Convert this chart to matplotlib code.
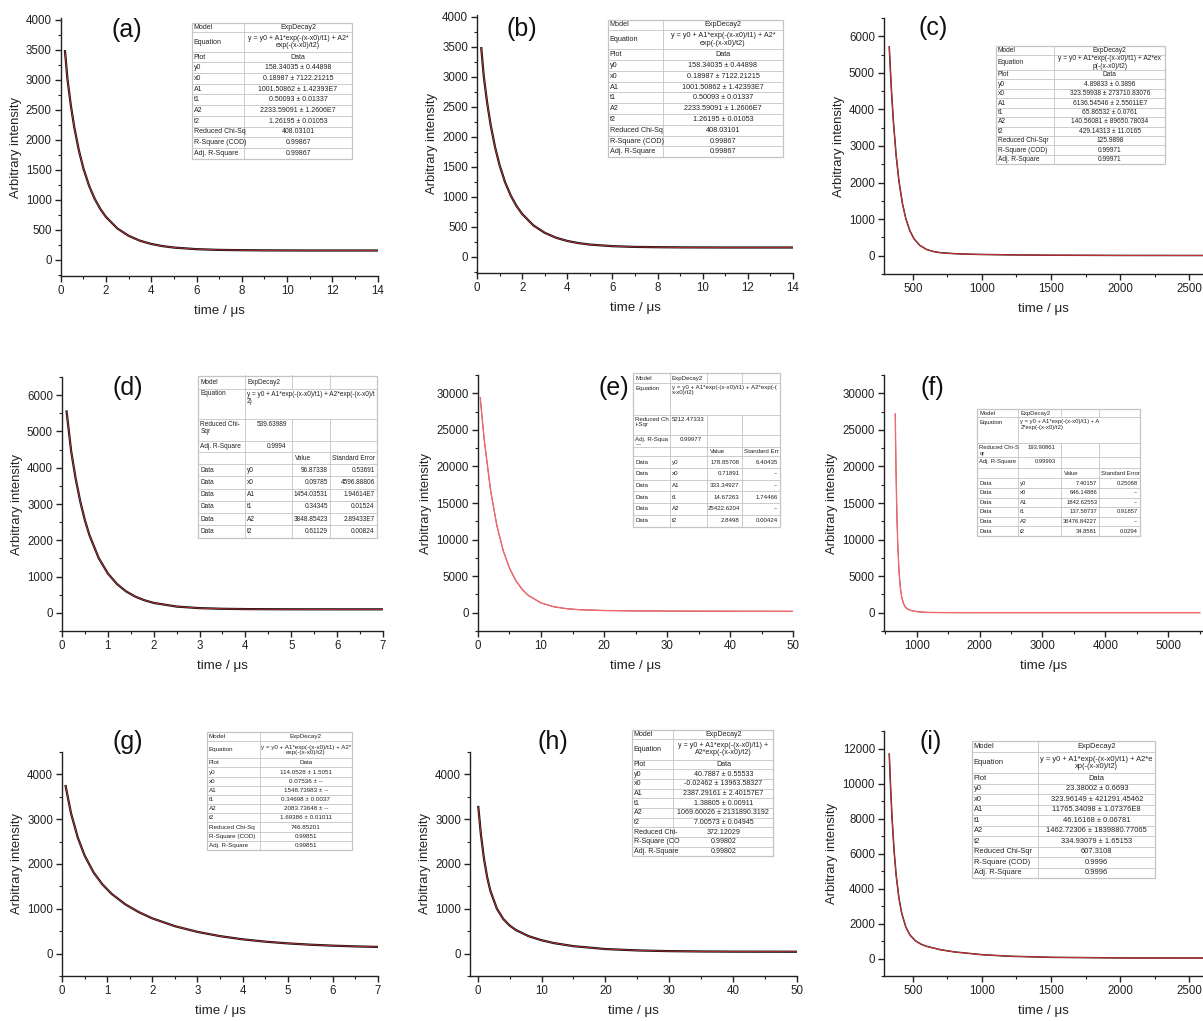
import numpy as np
import matplotlib
matplotlib.use("Agg")
import matplotlib.pyplot as plt
from matplotlib.ticker import AutoMinorLocator, MultipleLocator
from matplotlib.patches import Rectangle

plt.rcParams['font.family'] = ['Liberation Sans', 'DejaVu Sans']

# ---------------- DATA ----------------
a_t = [0.19, 0.3, 0.45, 0.6, 0.8, 1.0, 1.25, 1.5, 1.75, 2.0, 2.5, 3.0, 3.5, 4.0, 4.5, 5, 6, 7, 8, 9, 10, 11, 12, 13, 14]
a_y = [3480, 3010, 2570, 2210, 1830, 1530, 1240, 1020, 850, 717, 526, 403, 321, 267, 231, 207, 180, 168, 163, 160, 159, 158, 158, 158, 158]
b_t = a_t
b_y = a_y

c_t = [330, 345, 360, 380, 400, 425, 450, 480, 510, 550, 600, 650, 700, 800, 900, 1000, 1200, 1500, 2000, 2600]
c_y = [5710, 4573, 3666, 2735, 2047, 1433, 1011, 674, 458, 285, 171, 114, 83, 56, 42, 34, 23, 14, 8, 6]

d_t = [0.1, 0.2, 0.3, 0.4, 0.5, 0.6, 0.8, 1.0, 1.2, 1.4, 1.6, 1.8, 2.0, 2.5, 3.0, 3.5, 4.0, 5.0, 6.0, 7.0]
d_y = [5550, 4451, 3683, 3059, 2550, 2135, 1511, 1086, 792, 589, 446, 346, 274, 173, 130, 112, 104, 98, 97, 97]

e_t = [0.35, 1, 2, 3, 4, 5, 6, 7, 8, 10, 12, 14, 16, 20, 25, 30, 40, 50]
e_y = [29400, 23542, 16699, 11884, 8484, 6087, 4396, 3200, 2357, 1335, 819, 555, 416, 298, 246, 224, 202, 190]

f_t = [659, 670, 685, 700, 720, 740, 760, 790, 820, 850, 900, 1000, 1100, 1200, 1400, 1700, 2000, 3000, 4000, 5500]
f_y = [27170, 19933, 13350, 9023, 5461, 3404, 2202, 1241, 776, 531, 323, 148, 75, 40, 15, 8, 7.5, 7.4, 7.4, 7.4]

g_t = [0.08, 0.2, 0.35, 0.5, 0.7, 0.9, 1.1, 1.4, 1.7, 2.0, 2.5, 3.0, 3.5, 4.0, 4.5, 5.0, 5.5, 6.0, 6.5, 7.0]
g_y = [3740, 3131, 2588, 2191, 1811, 1539, 1333, 1101, 926, 787, 612, 485, 390, 319, 267, 228, 199, 177, 161, 149]

h_t = [0.1, 0.5, 1, 1.5, 2, 3, 4, 5, 6, 8, 10, 12, 15, 20, 25, 30, 35, 40, 50]
h_y = [3273, 2669, 2106, 1697, 1397, 1006, 774, 627, 525, 388, 298, 233, 166, 102, 71, 55, 48, 44, 42]

i_t = [330, 340, 350, 365, 380, 400, 420, 450, 480, 520, 560, 600, 700, 800, 1000, 1200, 1500, 2000, 2600]
i_y = [11680, 9728, 8070, 6153, 4754, 3455, 2590, 1794, 1341, 1006, 817, 695, 502, 377, 218, 130, 67, 33, 25]

panel_letters = ['(a)', '(b)', '(c)', '(d)', '(e)', '(f)', '(g)', '(h)', '(i)']
xlabels = ['time / \u03bcs'] * 9
xlabels[5] = 'time /\u03bcs'
ylabel_text = 'Arbitrary intensity'

# table contents
summary_keys = ['Model', 'Equation', 'Plot', 'y0', 'x0', 'A1', 't1', 'A2', 't2']
tab_a_keys = summary_keys + ['Reduced Chi-Sq', 'R-Square (COD)', 'Adj. R-Square']
tab_a_vals = ['ExpDecay2', 'y = y0 + A1*exp(-(x-x0)/t1) + A2*\nexp(-(x-x0)/t2)', 'Data',
              '158.34035 \u00b1 0.44898', '0.18987 \u00b1 7122.21215', '1001.50862 \u00b1 1.42393E7',
              '0.50093 \u00b1 0.01337', '2233.59091 \u00b1 1.2606E7', '1.26195 \u00b1 0.01053',
              '408.03101', '0.99867', '0.99867']
tab_c_keys = summary_keys + ['Reduced Chi-Sqr', 'R-Square (COD)', 'Adj. R-Square']
tab_c_vals = ['ExpDecay2', 'y = y0 + A1*exp(-(x-x0)/t1) + A2*ex\np(-(x-x0)/t2)', 'Data',
              '4.89833 \u00b1 0.3896', '323.59938 \u00b1 273710.83076', '6136.54546 \u00b1 2.55011E7',
              '65.86532 \u00b1 0.0761', '140.56081 \u00b1 89650.78034', '429.14313 \u00b1 11.0165',
              '125.9898', '0.99971', '0.99971']
tab_g_keys = summary_keys + ['Reduced Chi-Sq', 'R-Square (COD)', 'Adj. R-Square']
tab_g_vals = ['ExpDecay2', 'y = y0 + A1*exp(-(x-x0)/t1) + A2*\nexp(-(x-x0)/t2)', 'Data',
              '114.0528 \u00b1 1.5051', '0.07536 \u00b1 --', '1548.73983 \u00b1 --',
              '0.34698 \u00b1 0.0037', '2083.73648 \u00b1 --', '1.69386 \u00b1 0.01011',
              '746.85201', '0.99851', '0.99851']
tab_h_keys = summary_keys + ['Reduced Chi-', 'R-Square (CO', 'Adj. R-Square']
tab_h_vals = ['ExpDecay2', 'y = y0 + A1*exp(-(x-x0)/t1) +\nA2*exp(-(x-x0)/t2)', 'Data',
              '40.7887 \u00b1 0.55533', '-0.02462 \u00b1 13963.58327', '2387.29161 \u00b1 2.40157E7',
              '1.38805 \u00b1 0.00911', '1069.60026 \u00b1 2131890.3192', '7.00573 \u00b1 0.04945',
              '372.12029', '0.99802', '0.99802']
tab_i_keys = summary_keys + ['Reduced Chi-Sqr', 'R-Square (COD)', 'Adj. R-Square']
tab_i_vals = ['ExpDecay2', 'y = y0 + A1*exp(-(x-x0)/t1) + A2*e\nxp(-(x-x0)/t2)', 'Data',
              '23.38002 \u00b1 0.6693', '323.96149 \u00b1 421291.45462', '11765.34098 \u00b1 1.07376E8',
              '46.16168 \u00b1 0.06781', '1462.72306 \u00b1 1839880.77065', '334.93079 \u00b1 1.65153',
              '607.3108', '0.9996', '0.9996']

param_names = ['y0', 'x0', 'A1', 't1', 'A2', 't2']
tab_d_head = ['Reduced Chi-\nSqr', 'Adj. R-Square']
tab_d_eq = 'y = y0 + A1*exp(-(x-x0)/t1) + A2*exp(-(x-x0)/t\n2)'
tab_d_stats = ['539.63989', '0.9994']
tab_d_value = ['96.87338', '0.09785', '1454.03531', '0.34345', '3848.85423', '0.61129']
tab_d_err = ['0.53691', '4596.88806', '1.94614E7', '0.01524', '2.89433E7', '0.00824']
tab_d_errhead = 'Standard Error'

tab_e_head = ['Reduced Ch\ni-Sqr', 'Adj. R-Squa\n---']
tab_e_eq = 'y = y0 + A1*exp(-(x-x0)/t1) + A2*exp(-(\nx-x0)/t2)'
tab_e_stats = ['5212.47333', '0.99977']
tab_e_value = ['178.85708', '0.71891', '333.34927', '14.67263', '25422.6204', '2.8498']
tab_e_err = ['6.40435', '--', '--', '1.74466', '--', '0.00424']
tab_e_errhead = 'Standard Err'

tab_f_head = ['Reduced Chi-S\nqr', 'Adj. R-Square']
tab_f_eq = 'y = y0 + A1*exp(-(x-x0)/t1) + A\n2*exp(-(x-x0)/t2)'
tab_f_stats = ['193.90861', '0.99993']
tab_f_value = ['7.40157', '646.14886', '1842.62553', '137.58737', '36476.84227', '34.8581']
tab_f_err = ['0.25068', '--', '--', '0.91857', '--', '0.0294']
tab_f_errhead = 'Standard Error'

# ---------------- FIGURE ----------------
W, H = 1203, 1021
fig = plt.figure(figsize=(W / 100, H / 100), dpi=100)
fig.patch.set_facecolor('white')

BLACK = '#111111'
RED = '#e0383e'
EDGE = '#c4c4c4'


def px_axes(l, t, r, b):
    return fig.add_axes([l / W, 1 - b / H, (r - l) / W, (b - t) / H])


# layout: (left, top, right, bottom) px, xlim, ylim, xmajor, ymajor, label pos, style
panels = [
    (a_t, a_y, (60.7, 18, 377.7, 276), (0, 14), (-267, 4033), 2, 500, (127, 30), 'black'),
    (b_t, b_y, (477, 15, 793, 273), (0, 14), (-267, 4033), 2, 500, (522, 29), 'black'),
    (c_t, c_y, (884, 18, 1203, 274), (292, 2600), (-500, 6500), 500, 1000, (933, 28), 'mix'),
    (d_t, d_y, (62, 377, 383, 631), (0, 7), (-500, 6500), 1, 1000, (128, 388), 'black'),
    (e_t, e_y, (478, 375, 793, 631), (0, 50), (-2500, 32500), 10, 5000, (614, 388), 'red'),
    (f_t, f_y, (884, 375, 1203, 631), (480, 5552), (-2500, 32500), 1000, 5000, (932, 388), 'red'),
    (g_t, g_y, (62, 752, 378, 976), (0, 7), (-500, 4500), 1, 1000, (128, 742), 'black'),
    (h_t, h_y, (470, 752, 797, 976), (-1.2, 50), (-500, 4500), 10, 1000, (553, 742), 'black'),
    (i_t, i_y, (884, 731, 1203, 976), (292, 2600), (-1000, 13000), 500, 2000, (931, 742), 'mix'),
]

for k, (tt, yy, box, xl, yl, xm, ym, lp, style) in enumerate(panels):
    ax = px_axes(*box)
    if style == 'black':
        ax.plot(tt, yy, color=BLACK, lw=1.6, zorder=2)
        ax.plot(tt, yy, color=RED, lw=0.5, zorder=3)
    elif style == 'mix':
        ax.plot(tt, yy, color='#3a1010', lw=1.1, zorder=2)
        ax.plot(tt, yy, color=RED, lw=0.6, zorder=3)
    else:
        ax.plot(tt, yy, color='#7a2020', lw=0.6, zorder=2)
        ax.plot(tt, yy, color='#ef6a6e', lw=1.0, zorder=3)
    ax.set_xlim(*xl)
    ax.set_ylim(*yl)
    ax.xaxis.set_major_locator(MultipleLocator(xm))
    ax.yaxis.set_major_locator(MultipleLocator(ym))
    ax.xaxis.set_minor_locator(AutoMinorLocator(2))
    ax.yaxis.set_minor_locator(AutoMinorLocator(2))
    for s in ['top', 'right']:
        ax.spines[s].set_visible(False)
    for s in ['left', 'bottom']:
        ax.spines[s].set_linewidth(1.0)
        ax.spines[s].set_color('#222222')
    ax.tick_params(which='major', direction='out', length=4, width=1.0, labelsize=8.3, colors='#222222', pad=2.5)
    ax.tick_params(which='minor', direction='out', length=2.5, width=0.8, colors='#222222')
    yt = [v for v in np.arange(0, yl[1] + 1, ym) if v <= yl[1]]
    ax.set_yticks(yt)
    ax.set_yticklabels([f'{int(v)}' for v in yt])
    ax.set_xlabel(xlabels[k], fontsize=9.6, labelpad=6, color='#222222')
    ax.set_ylabel(ylabel_text, fontsize=9.4, labelpad=3, color='#222222')
    ax.patch.set_alpha(0)
    fig.text(lp[0] / W, 1 - lp[1] / H, panel_letters[k], fontsize=18, ha='center', va='center', color='#111111')

# ---------------- TABLES ----------------
ov = fig.add_axes([0, 0, 1, 1])
ov.set_xlim(0, W)
ov.set_ylim(H, 0)
ov.axis('off')
ov.set_zorder(10)
ov.patch.set_alpha(0)


def grid(x0, y0, col_w, row_h, skip_v=()):
    xs = x0 + np.concatenate([[0], np.cumsum(col_w)])
    ys = y0 + np.concatenate([[0], np.cumsum(row_h)])
    ov.add_patch(Rectangle((xs[0], ys[0]), xs[-1] - xs[0], ys[-1] - ys[0],
                           facecolor='white', edgecolor=EDGE, lw=0.9, zorder=5))
    for y in ys[1:-1]:
        ov.plot([xs[0], xs[-1]], [y, y], color=EDGE, lw=0.6, zorder=6)
    for r in range(len(row_h)):
        for c in range(1, len(col_w)):
            if (r, c) in skip_v:
                continue
            ov.plot([xs[c], xs[c]], [ys[r], ys[r + 1]], color=EDGE, lw=0.6, zorder=6)
    return xs, ys


def put(x, y, s, ha, fs):
    ov.text(x, y, s, ha=ha, va='center', fontsize=fs, color='#222222', zorder=7, linespacing=1.05)


def summary_table(x0, y0, col_w, rh_model, rh_eq, rh, keys, vals, fs):
    row_h = [rh_model, rh_eq] + [rh] * (len(keys) - 2)
    xs, ys = grid(x0, y0, col_w, row_h)
    for r in range(len(keys)):
        yc = (ys[r] + ys[r + 1]) / 2
        put(xs[0] + 2, yc, keys[r], 'left', fs)
        put((xs[1] + xs[2]) / 2, yc, vals[r], 'center', fs)


def param_table(x0, y0, col_w, row_h, head, eq, stats, values, errs, errhead, fs, stat_left=False):
    xs, ys = grid(x0, y0, col_w, row_h, skip_v={(1, 2), (1, 3)})
    yc = lambda r: (ys[r] + ys[r + 1]) / 2
    put(xs[0] + 2, yc(0), 'Model', 'left', fs)
    put(xs[1] + 2, yc(0), 'ExpDecay2', 'left', fs)
    put(xs[0] + 2, ys[1] + 5, 'Equation', 'left', fs)
    ov.text(xs[1] + 2, ys[1] + 2, eq, ha='left', va='top', fontsize=fs, color='#222222', zorder=7, linespacing=1.05)
    for j in range(2):
        r = 2 + j
        ov.text(xs[0] + 2, ys[r] + 2, head[j], ha='left', va='top', fontsize=fs, color='#222222', zorder=7, linespacing=1.05)
        if stat_left and j == 0:
            ov.text(xs[1] + 1.5, ys[r] + 2, stats[j], ha='left', va='top', fontsize=fs, color='#222222', zorder=7)
        else:
            ov.text(xs[2] - 5, ys[r] + 2, stats[j], ha='right', va='top', fontsize=fs, color='#222222', zorder=7)
    put(xs[2] + 3, yc(4), 'Value', 'left', fs)
    put(xs[3] + 2, yc(4), errhead, 'left', fs)
    for p in range(6):
        r = 5 + p
        put(xs[0] + 2, yc(r), 'Data', 'left', fs)
        put(xs[1] + 2, yc(r), param_names[p], 'left', fs)
        put(xs[3] - 2, yc(r), values[p], 'right', fs)
        put(xs[4] - 2, yc(r), errs[p], 'right', fs)


summary_table(191.7, 22.7, [52.6, 107.4], 9.7, 19.3, 10.7, tab_a_keys, tab_a_vals, 5.0)
summary_table(607.5, 20.0, [55.5, 120.0], 9.8, 19.5, 10.8, tab_a_keys, tab_a_vals, 5.2)
summary_table(995.7, 45.7, [58.6, 111.0], 9.3, 15.0, 9.43, tab_c_keys, tab_c_vals, 4.8)
param_table(198.3, 375.5, [46.7, 46.7, 38.3, 46.7], [13.3, 30, 21.7, 11.7, 11.7] + [12.3] * 6,
            tab_d_head, tab_d_eq, tab_d_stats, tab_d_value, tab_d_err, tab_d_errhead, 4.7)
param_table(633.3, 373.0, [36.7, 36.7, 35.0, 38.3], [10.0, 31.7, 20.0, 12.3, 9.3] + [11.7] * 6,
            tab_e_head, tab_e_eq, tab_e_stats, tab_e_value, tab_e_err, tab_e_errhead, 4.4, stat_left=True)
param_table(977.3, 409.0, [41.0, 42.3, 38.7, 40.7], [8.3, 26.0, 13.3, 11.7, 10.0] + [9.6] * 6,
            tab_f_head, tab_f_eq, tab_f_stats, tab_f_value, tab_f_err, tab_f_errhead, 4.2)
summary_table(206.7, 731.7, [53.3, 91.7], 9.3, 17.3, 9.17, tab_g_keys, tab_g_vals, 4.5)
summary_table(631.7, 729.7, [41.7, 100.0], 9.3, 20.7, 9.67, tab_h_keys, tab_h_vals, 5.1)
summary_table(971.7, 741.3, [66.7, 116.7], 11.0, 20.7, 10.5, tab_i_keys, tab_i_vals, 5.4)

fig.savefig('out.png', dpi=100, facecolor='white')
